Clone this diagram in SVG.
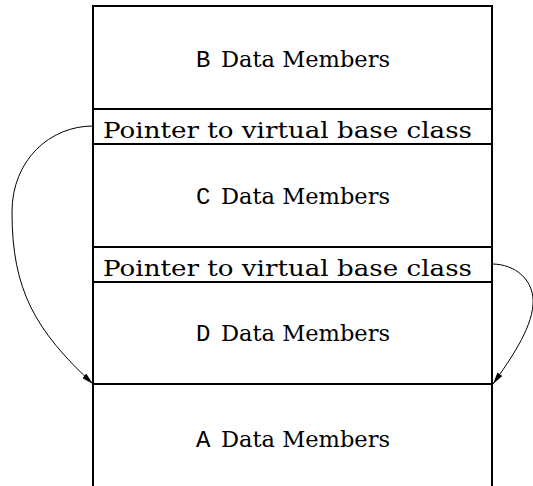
<svg xmlns="http://www.w3.org/2000/svg" width="533" height="486" viewBox="0 0 533 486">
<defs>
<style>
.box{fill:none;stroke:#000;stroke-width:2}
.sep{stroke:#000;stroke-width:2}
.lbl{font-family:"DejaVu Serif","Liberation Serif",serif;font-size:23px;fill:#000}
.mono{font-family:"Liberation Mono","DejaVu Sans Mono",monospace;font-size:24px;fill:#000}
.edge{fill:none;stroke:#000;stroke-width:1}
</style>
<marker id="ah" viewBox="0 0 12 6" refX="12" refY="3" markerWidth="12" markerHeight="6" markerUnits="userSpaceOnUse" orient="auto">
<path d="M0,0 L12,3 L0,6 Z" fill="#000"/>
</marker>
</defs>
<g id="layout">
<path class="box" d="M93,487 V6 H492 V487"/>
</g>
<g id="B">
<text y="66.5"><tspan class="mono" x="196">B</tspan><tspan class="lbl" x="221" textLength="169" lengthAdjust="spacingAndGlyphs">Data Members</tspan></text>
</g>
<g id="ptrB">
<line class="sep" x1="93" y1="109" x2="492" y2="109"/>
<text class="lbl" x="103" y="138.3" textLength="369" lengthAdjust="spacingAndGlyphs">Pointer to virtual base class</text>
<line class="sep" x1="93" y1="144" x2="492" y2="144"/>
</g>
<g id="C">
<text y="204"><tspan class="mono" x="196">C</tspan><tspan class="lbl" x="221" textLength="169" lengthAdjust="spacingAndGlyphs">Data Members</tspan></text>
</g>
<g id="ptrC">
<line class="sep" x1="93" y1="247" x2="492" y2="247"/>
<text class="lbl" x="103" y="275.5" textLength="369" lengthAdjust="spacingAndGlyphs">Pointer to virtual base class</text>
<line class="sep" x1="93" y1="282" x2="492" y2="282"/>
</g>
<g id="D">
<text y="341"><tspan class="mono" x="196">D</tspan><tspan class="lbl" x="221" textLength="169" lengthAdjust="spacingAndGlyphs">Data Members</tspan></text>
</g>
<g id="A">
<line class="sep" x1="93" y1="384" x2="492" y2="384"/>
<text y="447"><tspan class="mono" x="196">A</tspan><tspan class="lbl" x="221" textLength="169" lengthAdjust="spacingAndGlyphs">Data Members</tspan></text>
</g>
<g id="connectors">
<path class="edge" marker-end="url(#ah)" d="M93,126 C50,126 12,160 12,212 C12,290 35,330 93,384"/>
<path class="edge" marker-end="url(#ah)" d="M492,264 C515,264 535,280 533,305 C531,330 510,360 493,384"/>
</g>
</svg>
